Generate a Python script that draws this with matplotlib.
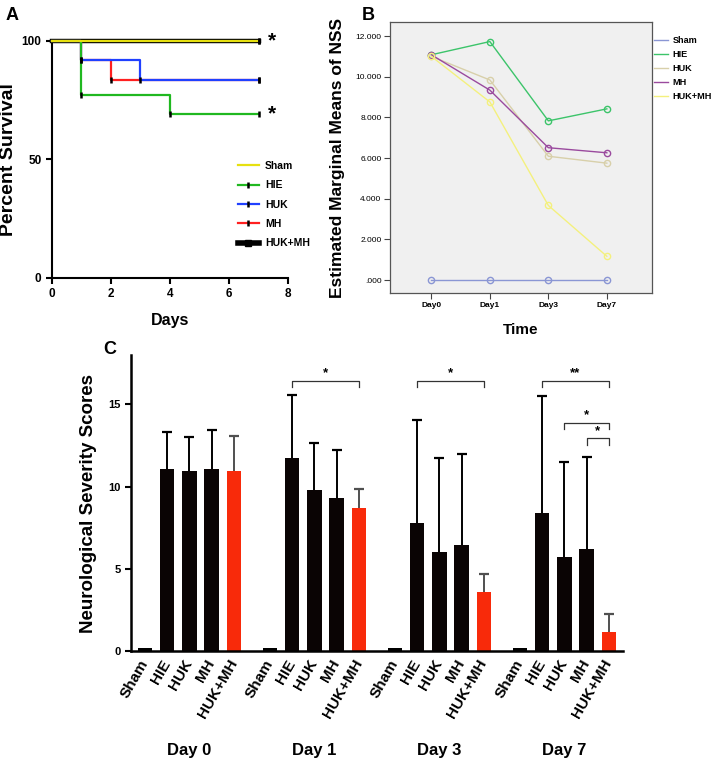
import numpy as np
import matplotlib
matplotlib.use("Agg")
import matplotlib.pyplot as plt
from matplotlib.lines import Line2D

plt.rcParams['font.family'] = ['Liberation Sans', 'DejaVu Sans']

groups = ['Sham', 'HIE', 'HUK', 'MH', 'HUK+MH']

# A: survival curves
surv_days = [0, 1, 2, 3, 4, 7]
surv = {
    'Sham':   [100, 100, 100, 100, 100, 100],
    'HIE':    [100, 76.9, 76.9, 76.9, 69.2, 69.2],
    'HUK':    [100, 91.7, 91.7, 83.3, 83.3, 83.3],
    'MH':     [100, 91.7, 83.3, 83.3, 83.3, 83.3],
    'HUK+MH': [100, 100, 100, 100, 100, 100],
}

# B: estimated marginal means of NSS
time_labels = ['Day0', 'Day1', 'Day3', 'Day7']
emm = {
    'Sham':   [0.0, 0.0, 0.0, 0.0],
    'HIE':    [11.08, 11.73, 7.83, 8.42],
    'HUK':    [11.0, 9.84, 6.09, 5.75],
    'MH':     [11.08, 9.34, 6.51, 6.26],
    'HUK+MH': [11.0, 8.76, 3.67, 1.17],
}
b_ticks = [0, 2, 4, 6, 8, 10, 12]
b_ticklabels = ['.000', '2.000', '4.000', '6.000', '8.000', '10.000', '12.000']

# C: NSS bars, mean and upper SD
days = ['Day 0', 'Day 1', 'Day 3', 'Day 7']
nss_mean = [
    [0, 11.05, 10.97, 11.05, 10.97],
    [0, 11.74, 9.80, 9.31, 8.72],
    [0, 7.79, 6.05, 6.47, 3.62],
    [0, 8.38, 5.73, 6.21, 1.13],
]
nss_top = [
    [0, 13.32, 12.99, 13.42, 13.07],
    [0, 15.60, 12.63, 12.24, 9.86],
    [0, 14.05, 11.72, 11.96, 4.71],
    [0, 15.52, 11.52, 11.80, 2.26],
]
# (day, group a, group b, bracket height, text)
sig = [
    (1, 1, 4, 16.41, '*'),
    (2, 1, 4, 16.45, '*'),
    (3, 1, 4, 16.45, '**'),
    (3, 2, 4, 13.86, '*'),
    (3, 3, 4, 12.93, '*'),
]

fig = plt.figure(figsize=(7.14, 7.67), dpi=100)

# ---------- A ----------
ax = fig.add_axes([0.0728, 0.638, 0.3306, 0.309])
a_colors = {'Sham': '#e6e010', 'HIE': '#20b820', 'HUK': '#2040ff',
            'MH': '#ff2020', 'HUK+MH': '#000000'}
a_lw = {'Sham': 1.6, 'HIE': 1.6, 'HUK': 1.6, 'MH': 1.6, 'HUK+MH': 3.2}
order = ['HUK+MH', 'MH', 'HUK', 'HIE', 'Sham']
for g in order:
    v = surv[g]
    ax.step(surv_days, v, where='post', color=a_colors[g], lw=a_lw[g],
            clip_on=False, zorder=3)
for g in order:
    v = surv[g]
    idx = [i for i in range(1, len(v)) if v[i] != v[i - 1]] + [len(v) - 1]
    ax.plot([surv_days[i] for i in idx], [v[i] for i in idx], ls='none',
            marker='|', ms=4, mew=1.8, color='black', clip_on=False, zorder=4)
ax.text(7.45, 100, '*', fontsize=15, fontweight='bold', ha='center', va='center')
ax.text(7.45, 69.2, '*', fontsize=15, fontweight='bold', ha='center', va='center')
ax.set_xlim(0, 8)
ax.set_ylim(0, 100)
ax.set_xticks([0, 2, 4, 6, 8])
ax.set_yticks([0, 50, 100])
for s in ['top', 'right']:
    ax.spines[s].set_visible(False)
for s in ['left', 'bottom']:
    ax.spines[s].set_linewidth(1.5)
ax.tick_params(width=1.5, length=4, labelsize=8.5)
for t in ax.get_xticklabels() + ax.get_yticklabels():
    t.set_fontweight('bold')
ax.set_ylabel('Percent Survival', fontsize=14, fontweight='bold')
ax.yaxis.set_label_coords(-0.15, 0.5)
ax.set_xlabel('Days', fontsize=11.5, fontweight='bold')
ax.xaxis.set_label_coords(0.5, -0.15)
handles = []
for g in groups:
    if g == 'Sham':
        h = Line2D([], [], color=a_colors[g], lw=1.6)
    elif g == 'HUK+MH':
        h = Line2D([], [], color='black', lw=4, marker='s', ms=4)
    else:
        h = Line2D([], [], color=a_colors[g], lw=1.6, marker='|', ms=4,
                   mew=1.8, mec='black')
    handles.append(h)
leg = ax.legend(handles, groups, loc='upper left', bbox_to_anchor=(0.77, 0.51),
                frameon=False, fontsize=7.5, handlelength=2.0, numpoints=1,
                labelspacing=0.9, handletextpad=0.6, borderaxespad=0)
for t in leg.get_texts():
    t.set_fontweight('bold')

# ---------- B ----------
bx = fig.add_axes([0.546, 0.6176, 0.367, 0.3534])
bx.set_facecolor('#f0f0f0')
b_colors = {'Sham': '#8a96d4', 'HIE': '#3cc46a', 'HUK': '#d8d0aa',
            'MH': '#9a4a9e', 'HUK+MH': '#f4f07e'}
xb = np.arange(len(time_labels))
for g in groups:
    bx.plot(xb, emm[g], color=b_colors[g], lw=1.0, marker='o', ms=4.5,
            mfc='none', mec=b_colors[g], mew=1.0, label=g)
bx.set_xlim(-0.71, 3.77)
bx.set_ylim(-0.65, 12.68)
bx.set_xticks(xb)
bx.set_xticklabels(time_labels, fontsize=6, fontweight='bold')
bx.set_yticks(b_ticks)
bx.set_yticklabels(b_ticklabels, fontsize=6)
for s in bx.spines.values():
    s.set_color('#555555')
    s.set_linewidth(0.9)
bx.tick_params(direction='out', length=4, width=0.8, color='#444444', pad=2)
bx.set_ylabel('Estimated Marginal Means of NSS', fontsize=12.5, fontweight='bold')
bx.yaxis.set_label_coords(-0.17, 0.5)
bx.set_xlabel('Time', fontsize=11, fontweight='bold')
bx.xaxis.set_label_coords(0.5, -0.11)
bl = bx.legend(loc='upper left', bbox_to_anchor=(1.008, 0.95), frameon=False,
               fontsize=6.6, handlelength=1.5, labelspacing=0.55, handletextpad=0.5,
               borderaxespad=0, borderpad=0)
for line in bl.get_lines():
    line.set_marker('')
for t in bl.get_texts():
    t.set_fontweight('bold')

# ---------- C ----------
cx = fig.add_axes([0.1835, 0.1512, 0.689, 0.3859])
gap = 5.63
bar_colors = ['#0a0404', '#0a0404', '#0a0404', '#0a0404', '#f82a0a']
err_colors = ['black', 'black', 'black', 'black', '#505050']
pos_all, lab_all = [], []
for d in range(len(days)):
    pos = d * gap + np.arange(len(groups))
    means = nss_mean[d]
    for i, g in enumerate(groups):
        if means[i] == 0:
            cx.bar(pos[i], 0.2, width=0.6, color='black', lw=0, zorder=3)
        else:
            cx.bar(pos[i], means[i], width=0.65, color=bar_colors[i], lw=0, zorder=2)
            eb = cx.errorbar(pos[i], means[i], yerr=[[0], [nss_top[d][i] - means[i]]],
                             fmt='none', ecolor=err_colors[i], elinewidth=1.4,
                             capsize=3.6, capthick=1.6, zorder=2)
            eb[1][0].set_visible(False)
    pos_all.extend(pos)
    lab_all.extend(groups)
    cx.text(pos.mean(), -0.335, days[d], transform=cx.get_xaxis_transform(),
            ha='center', va='center', fontsize=12, fontweight='bold')
for d, a, b, y, txt in sig:
    x1 = d * gap + a
    x2 = d * gap + b
    cx.plot([x1, x1, x2, x2], [y - 0.38, y, y, y - 0.38], color='#333333',
            lw=0.9, clip_on=False)
    cx.text((x1 + x2) / 2, y + 0.1, txt, ha='center', va='bottom',
            fontsize=9.5, fontweight='bold')
cx.set_xlim(-0.63, 21.53)
cx.set_ylim(0, 18)
cx.set_yticks([0, 5, 10, 15])
cx.set_xticks(pos_all)
cx.set_xticklabels(lab_all, rotation=60, ha='right', va='center',
                   rotation_mode='anchor', fontsize=11, fontweight='bold')
cx.tick_params(axis='x', length=0, pad=7)
cx.tick_params(axis='y', length=4, width=1.5, labelsize=8)
for t in cx.get_yticklabels():
    t.set_fontweight('bold')
for s in ['top', 'right']:
    cx.spines[s].set_visible(False)
for s in ['left', 'bottom']:
    cx.spines[s].set_linewidth(1.8)
cx.set_ylabel('Neurological Severity Scores', fontsize=13.5, fontweight='bold')
cx.yaxis.set_label_coords(-0.069, 0.5)

fig.text(12 / 714, 1 - 15 / 767, 'A', fontsize=13, fontweight='bold', ha='center', va='center')
fig.text(368 / 714, 1 - 15 / 767, 'B', fontsize=13, fontweight='bold', ha='center', va='center')
fig.text(110 / 714, 1 - 350 / 767, 'C', fontsize=13, fontweight='bold', ha='center', va='center')

fig.savefig('out.png', dpi=100)
